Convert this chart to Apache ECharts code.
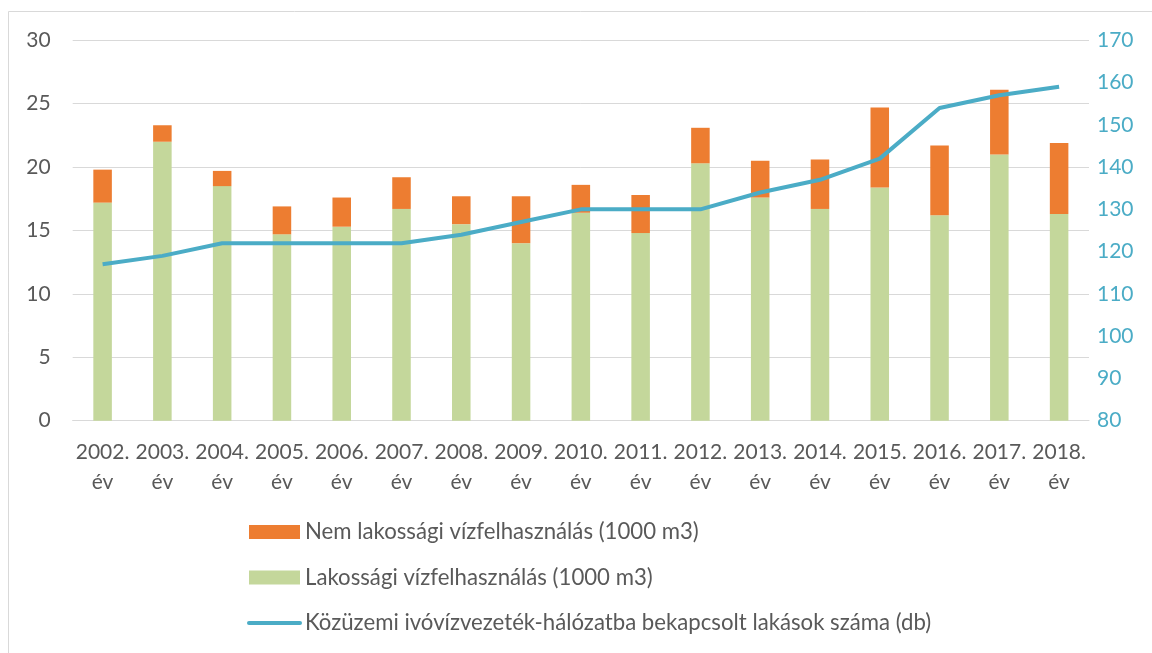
<!DOCTYPE html>
<html>
<head>
<meta charset="utf-8">
<script src="https://cdn.jsdelivr.net/npm/echarts@6/dist/echarts.min.js"></script>
<style>
  html, body { margin: 0; padding: 0; background: #fff; }
  #chart { width: 1152px; height: 653px; }
</style>
</head>
<body>
<div id="chart"></div>
<script>
// Years on the category axis
const years = ['2002.', '2003.', '2004.', '2005.', '2006.', '2007.', '2008.', '2009.', '2010.',
               '2011.', '2012.', '2013.', '2014.', '2015.', '2016.', '2017.', '2018.'];

// Residential water use (1000 m3)
const residential = [17.2, 22.0, 18.5, 14.7, 15.3, 16.7, 15.5, 14.0, 16.4,
                     14.8, 20.3, 17.6, 16.7, 18.4, 16.2, 21.0, 16.3];

// Total water use (1000 m3); the non-residential part is the difference
const totalUse = [19.8, 23.3, 19.7, 16.9, 17.6, 19.2, 17.7, 17.7, 18.6,
                  17.8, 23.1, 20.5, 20.6, 24.7, 21.7, 26.1, 21.9];
const nonResidential = totalUse.map((t, i) => +(t - residential[i]).toFixed(2));

// Dwellings connected to the public drinking water network (db)
const connected = [117, 119, 122, 122, 122, 122, 124, 127, 130,
                   130, 130, 134, 137, 142, 154, 157, 159];

// Axis ticks
const leftTicks = { min: 0, max: 30, interval: 5 };
const rightTicks = { min: 80, max: 170, interval: 10 };

const FONT = 'Lato, "Open Sans", sans-serif';
const GREY = '#595959';
const GRID = '#D9D9D9';
const LINE = '#4BACC6';

const chart = echarts.init(document.getElementById('chart'), null, { renderer: 'canvas' });

chart.setOption({
  animation: false,
  backgroundColor: '#fff',
  textStyle: { fontFamily: FONT },
  graphic: [{
    type: 'rect',
    shape: { x: 8.5, y: 11.5, width: 1300, height: 800 },
    style: { fill: 'none', stroke: GRID, lineWidth: 1 },
    silent: true,
    z: -1
  }],
  grid: { left: 72.7, right: 63, top: 40.3, bottom: 232.3, containLabel: false },
  legend: {
    orient: 'vertical',
    left: 247,
    top: 521,
    padding: 0,
    itemWidth: 51,
    itemHeight: 14,
    itemGap: 23.5,
    textStyle: { fontFamily: FONT, fontSize: 22.2, color: GREY, lineHeight: 22 },
    data: [
      { name: 'Nem lakossági vízfelhasználás (1000 m3)', icon: 'rect' },
      { name: 'Lakossági vízfelhasználás (1000 m3)', icon: 'rect' },
      {
        name: 'Közüzemi ivóvízvezeték-hálózatba bekapcsolt lakások száma (db)',
        itemStyle: { opacity: 0 },
        lineStyle: { color: LINE, width: 4, cap: 'round' }
      }
    ]
  },
  xAxis: {
    type: 'category',
    data: years,
    axisLine: { lineStyle: { color: GRID, width: 1 } },
    axisTick: { show: false },
    axisLabel: {
      interval: 0,
      color: GREY,
      fontFamily: FONT,
      fontSize: 21,
      lineHeight: 30,
      margin: 17,
      formatter: v => v + '\név'
    }
  },
  yAxis: [{
    type: 'value',
    min: leftTicks.min, max: leftTicks.max, interval: leftTicks.interval,
    axisLine: { show: false },
    axisTick: { show: false },
    splitLine: { lineStyle: { color: GRID, width: 1 } },
    axisLabel: { color: GREY, fontFamily: FONT, fontSize: 21, margin: 22 }
  }, {
    type: 'value',
    position: 'right',
    min: rightTicks.min, max: rightTicks.max, interval: rightTicks.interval,
    axisLine: { show: false },
    axisTick: { show: false },
    splitLine: { show: false },
    axisLabel: { color: LINE, fontFamily: FONT, fontSize: 21, margin: 8 }
  }],
  series: [{
    name: 'Lakossági vízfelhasználás (1000 m3)',
    type: 'bar',
    stack: 'use',
    barWidth: '31%',
    data: residential,
    itemStyle: { color: '#C4D79B' }
  }, {
    name: 'Nem lakossági vízfelhasználás (1000 m3)',
    type: 'bar',
    stack: 'use',
    barWidth: '31%',
    data: nonResidential,
    itemStyle: { color: '#ED7D31' }
  }, {
    name: 'Közüzemi ivóvízvezeték-hálózatba bekapcsolt lakások száma (db)',
    type: 'line',
    yAxisIndex: 1,
    data: connected,
    symbol: 'none',
    lineStyle: { color: LINE, width: 4 },
    itemStyle: { color: LINE },
    z: 5
  }]
});
</script>
</body>
</html>
